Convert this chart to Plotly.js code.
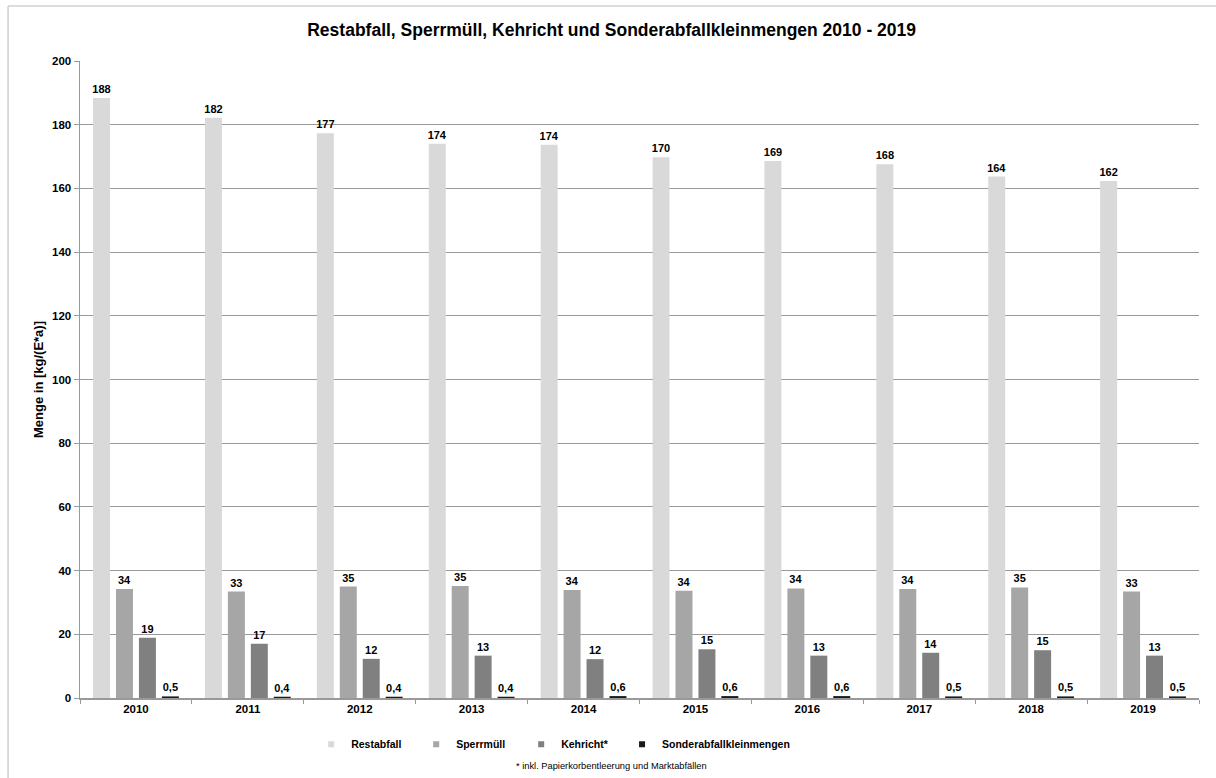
<!DOCTYPE html>
<html>
<head>
<meta charset="utf-8">
<script src="https://cdn.plot.ly/plotly-3.0.1.min.js"></script>
<style>html,body{margin:0;padding:0;background:#fff;}#chart{width:1216px;height:778px;}</style>
</head>
<body>
<div id="chart"></div>
<script>
var years = ['2010','2011','2012','2013','2014','2015','2016','2017','2018','2019'];
var restabfall = [188.4, 182.2, 177.3, 174.0, 173.7, 169.8, 168.6, 167.6, 163.7, 162.3];
var sperrmuell = [34.2, 33.4, 35.0, 35.2, 33.9, 33.7, 34.4, 34.2, 34.7, 33.4];
var kehricht = [18.9, 17.0, 12.3, 13.3, 12.2, 15.3, 13.3, 14.2, 15.0, 13.3];
var sonder = [0.5, 0.4, 0.4, 0.4, 0.6, 0.6, 0.6, 0.5, 0.5, 0.5];
var seriesNames = ['Restabfall', 'Sperrmüll', 'Kehricht*', 'Sonderabfallkleinmengen'];
var seriesColors = ['#d9d9d9', '#a6a6a6', '#808080', '#1a1a1a'];
var seriesValues = [restabfall, sperrmuell, kehricht, sonder];
var seriesFormats = ['%{y:.0f}', '%{y:.0f}', '%{y:.0f}', '%{y:.1f}'];
var yTicks = [0, 20, 40, 60, 80, 100, 120, 140, 160, 180, 200];

var FONT = 'Liberation Sans, Arial, sans-serif';
var traces = [];
for (var i = 0; i < 4; i++) {
  traces.push({
    type: 'bar',
    name: seriesNames[i],
    x: years,
    y: seriesValues[i],
    marker: {color: seriesColors[i], line: {width: 0}},
    texttemplate: seriesFormats[i],
    textposition: 'outside',
    constraintext: 'none',
    cliponaxis: false,
    textfont: {family: FONT, size: 11, color: '#000', weight: 'bold'},
    hoverinfo: 'x+y',
    showlegend: false
  });
}
// legend entries with small square symbols
for (var j = 0; j < 4; j++) {
  traces.push({
    type: 'scatter',
    mode: 'markers',
    name: seriesNames[j],
    x: [null], y: [null],
    marker: {symbol: 'square', size: 6, color: seriesColors[j]},
    showlegend: true,
    legend: j < 3 ? 'legend' : 'legend2'
  });
}

var legendFont = {family: FONT, size: 10.5, color: '#000', weight: 'bold'};
var layout = {
  width: 1216, height: 778,
  paper_bgcolor: '#fff', plot_bgcolor: '#fff',
  margin: {l: 80, r: 17, t: 61, b: 80},
  separators: ',.',
  font: {family: FONT, color: '#000'},
  title: {
    text: 'Restabfall, Sperrmüll, Kehricht und Sonderabfallkleinmengen 2010 - 2019',
    font: {family: FONT, size: 17.5, color: '#000', weight: 'bold'},
    x: 0.503, xanchor: 'center', y: 0.962, yanchor: 'middle'
  },
  barmode: 'group',
  bargap: 0.18,
  bargroupgap: 0.26,
  xaxis: {
    type: 'category',
    tickson: 'boundaries',
    ticks: 'outside', ticklen: 4, tickcolor: '#999', tickwidth: 1,
    showline: true, linecolor: '#999', linewidth: 1.5,
    showgrid: false,
    tickfont: {family: FONT, size: 11.5, color: '#000', weight: 'bold'},
    fixedrange: true
  },
  yaxis: {
    range: [0, 200],
    tickvals: yTicks,
    ticks: 'outside', ticklen: 5, tickcolor: '#999', tickwidth: 1,
    showline: true, linecolor: '#999', linewidth: 1.5,
    showgrid: true, gridcolor: '#999', gridwidth: 1,
    zeroline: false,
    tickfont: {family: FONT, size: 11.5, color: '#000', weight: 'bold'},
    title: {text: 'Menge in [kg/(E*a)]', font: {family: FONT, size: 13, color: '#000', weight: 'bold'}, standoff: 5},
    fixedrange: true
  },
  legend: {
    orientation: 'h',
    x: 0.2066, xanchor: 'left',
    y: -0.050, yanchor: 'top',
    font: legendFont,
    entrywidth: 60, entrywidthmode: 'pixels',
    itemwidth: 30,
    bgcolor: 'rgba(0,0,0,0)'
  },
  legend2: {
    orientation: 'h',
    x: 0.4844, xanchor: 'left',
    y: -0.050, yanchor: 'top',
    font: legendFont,
    itemwidth: 30,
    bgcolor: 'rgba(0,0,0,0)'
  },
  annotations: [{
    xref: 'paper', yref: 'paper',
    x: 0.4746, y: -0.106, xanchor: 'center', yanchor: 'middle',
    text: '* inkl. Papierkorbentleerung und Marktabfällen',
    showarrow: false,
    font: {family: FONT, size: 9.3, color: '#000'}
  }],
  shapes: [
    {type: 'line', xref: 'paper', yref: 'paper', x0: -0.0643, x1: 1.02, y0: 1.0863, y1: 1.0863, line: {color: '#d0d0d0', width: 1.5}},
    {type: 'line', xref: 'paper', yref: 'paper', x0: -0.0643, x1: -0.0643, y0: 1.0863, y1: -0.13, line: {color: '#d0d0d0', width: 1.5}}
  ]
};

Plotly.newPlot('chart', traces, layout, {displayModeBar: false, staticPlot: true});
</script>
</body>
</html>
